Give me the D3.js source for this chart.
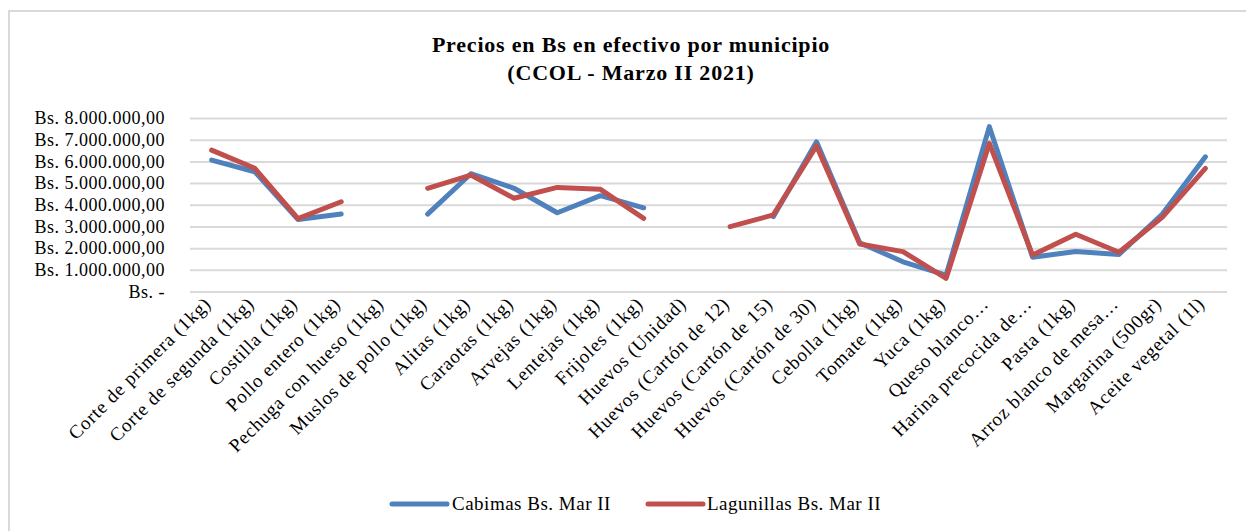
<!DOCTYPE html>
<html><head><meta charset="utf-8">
<script src="https://cdn.jsdelivr.net/npm/d3@7"></script>
<style>body{margin:0;background:#fff;}svg{display:block;font-family:"Liberation Serif","DejaVu Serif",serif;}</style>
</head><body><svg id="c" width="1246" height="531"></svg>
<script>
const categories = ["Corte de primera (1kg)","Corte de segunda (1kg)","Costilla (1kg)","Pollo entero (1kg)","Pechuga con hueso (1kg)","Muslos de pollo (1kg)","Alitas (1kg)","Caraotas (1kg)","Arvejas (1kg)","Lentejas (1kg)","Frijoles (1kg)","Huevos (Unidad)","Huevos (Cartón de 12)","Huevos (Cartón de 15)","Huevos (Cartón de 30)","Cebolla (1kg)","Tomate (1kg)","Yuca (1kg)","Queso blanco…","Harina precocida de…","Pasta (1kg)","Arroz blanco de mesa…","Margarina (500gr)","Aceite vegetal (1l)"];
const cabimas = [6060000,5520000,3320000,3570000,null,3570000,5430000,4760000,3630000,4420000,3860000,null,null,3450000,6900000,2250000,1370000,760000,7600000,1580000,1840000,1710000,3560000,6210000];
const lagunillas = [6520000,5680000,3360000,4140000,null,4760000,5370000,4300000,4800000,4710000,3370000,null,2990000,3530000,6710000,2190000,1840000,610000,6830000,1680000,2640000,1810000,3420000,5680000];
const yTicks = [0,1000000,2000000,3000000,4000000,5000000,6000000,7000000,8000000];
const yTickLabels = ["Bs. -","Bs. 1.000.000,00","Bs. 2.000.000,00","Bs. 3.000.000,00","Bs. 4.000.000,00","Bs. 5.000.000,00","Bs. 6.000.000,00","Bs. 7.000.000,00","Bs. 8.000.000,00"];
const seriesNames = ["Cabimas Bs. Mar II","Lagunillas Bs. Mar II"];
const colors = ["#4f81bd","#c0504d"];

const svg = d3.select("#c");
svg.append("rect").attr("x",9).attr("y",11).attr("width",1260).attr("height",540)
  .attr("fill","#fff").attr("stroke","#d9d9d9").attr("stroke-width",2);

const L=190, R=1227, T=118, B=291.5;
const x = d3.scaleBand().domain(categories).range([L,R]);
const y = d3.scaleLinear().domain([0,8000000]).range([B,T]);

svg.append("text").attr("x",631).attr("y",52).attr("text-anchor","middle")
  .attr("font-weight","bold").attr("font-size",22).attr("letter-spacing",0.8)
  .text("Precios en Bs en efectivo por municipio");
svg.append("text").attr("x",631).attr("y",80).attr("text-anchor","middle")
  .attr("font-weight","bold").attr("font-size",22).attr("letter-spacing",0.8)
  .text("(CCOL - Marzo II 2021)");

// grid
const yAxis = d3.axisLeft(y).tickValues(yTicks).tickSize(-(R-L)).tickFormat((d,i)=>yTickLabels[i]);
const gy = svg.append("g").attr("transform",`translate(${L},0)`).call(yAxis);
gy.select(".domain").remove();
gy.selectAll(".tick line").attr("stroke","#d9d9d9").attr("stroke-width",2);
gy.selectAll(".tick text").attr("x",-25).attr("font-size",18).attr("letter-spacing",0.5)
  .attr("fill","#000").attr("font-family","Liberation Serif, serif");

// x labels
const xAxis = d3.axisBottom(x).tickSize(0);
const gx = svg.append("g").attr("transform",`translate(0,${B})`).call(xAxis);
gx.select(".domain").remove();
gx.selectAll(".tick text").attr("font-size",19).attr("letter-spacing",0.8).attr("fill","#000")
  .attr("font-family","Liberation Serif, serif")
  .attr("text-anchor","end").attr("transform","translate(-9,4) rotate(-45)")
  .attr("x",0).attr("y",0).attr("dy","0.7em");

const line = d3.line().defined(d=>d.v!==null).x(d=>x(d.c)+x.bandwidth()/2).y(d=>y(d.v));
[cabimas,lagunillas].forEach((s,i)=>{
  svg.append("path").datum(categories.map((c,j)=>({c,v:s[j]})))
    .attr("d",line).attr("fill","none").attr("stroke",colors[i]).attr("stroke-width",5)
    .attr("stroke-linejoin","round").attr("stroke-linecap","round");
});

// legend
const leg = [{x:392,tx:452},{x:648,tx:707}];
leg.forEach((l,i)=>{
  svg.append("line").attr("x1",l.x).attr("x2",l.x+55).attr("y1",504).attr("y2",504)
    .attr("stroke",colors[i]).attr("stroke-width",5).attr("stroke-linecap","round");
  svg.append("text").attr("x",l.tx).attr("y",510).attr("font-size",19).attr("letter-spacing",0.5)
    .text(seriesNames[i]);
});
</script></body></html>
